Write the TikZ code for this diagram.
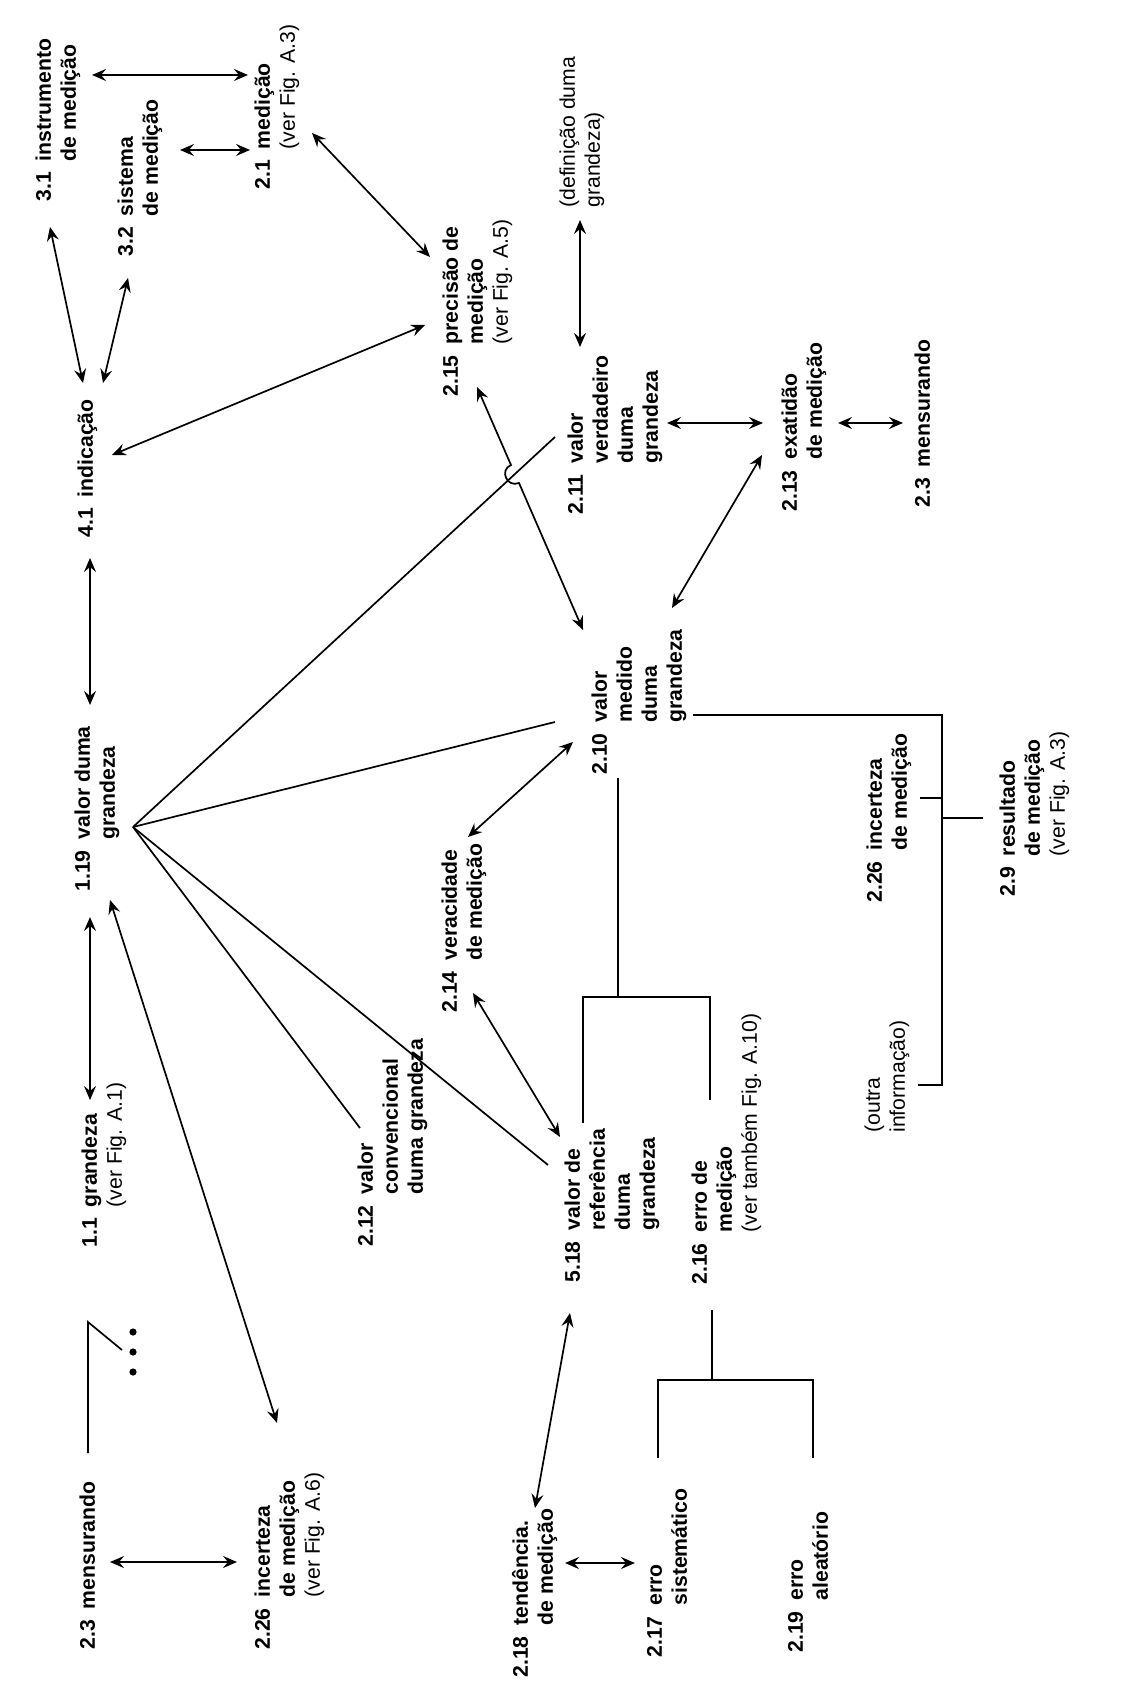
\documentclass[tikz,border=0pt]{standalone}
\usepackage{fontspec}
\setmainfont{Liberation Sans}
\usetikzlibrary{arrows.meta}
\newcommand\termtab[1]{\begin{tabular}{@{}l@{\hspace{5.5pt}}l@{}}#1\end{tabular}}
\begin{document}
\begin{tikzpicture}[x=0.5pt,y=-0.5pt,
 lbl/.style={rotate=90,anchor=north west,inner sep=0pt,font=\fontsize{10.6}{12.5}\selectfont\bfseries},
 plain/.style={rotate=90,anchor=north west,inner sep=0pt,align=left,font=\fontsize{10.6}{12.5}\selectfont},
 dbl/.style={{Stealth[length=7pt,width=6pt,inset=2.5pt]}-{Stealth[length=7pt,width=6pt,inset=2.5pt]},line width=0.85pt},
 ln/.style={line width=0.85pt},
 tree/.style={line width=1pt}]
\useasboundingbox[fill=white] (0,0) rectangle (1127,1689);

% ---------- nodes ----------
\node[lbl] (n31) at (33,202) {\termtab{3.1 & instrumento\\ & de medição}};
\node[lbl] (n32) at (115,257) {\termtab{3.2 & sistema\\ & de medição}};
\node[lbl] (n21) at (252,190) {\termtab{2.1 & medição\\ & {\mdseries (ver Fig. A.3)}}};
\node[lbl] (n215) at (440,397) {\termtab{2.15 & precisão de\\ & medição\\ & {\mdseries (ver Fig. A.5)}}};
\node[plain] (ndef) at (559,208) {(definição duma\\grandeza)};
\node[lbl] (n211) at (565,515) {\termtab{2.11 & valor\\ & verdadeiro\\ & duma\\ & grandeza}};
\node[lbl] (n213) at (779,512) {\termtab{2.13 & exatidão\\ & de medição}};
\node[lbl] (n23a) at (912,508) {\termtab{2.3 & mensurando}};
\node[lbl] (n41) at (75,538) {\termtab{4.1 & indicação}};
\node[lbl] (n119) at (72,892) {\termtab{1.19 & valor duma\\ & grandeza}};
\node[lbl] (n210) at (589,775) {\termtab{2.10 & valor\\ & medido\\ & duma\\ & grandeza}};
\node[lbl] (n11) at (79,1248) {\termtab{1.1 & grandeza\\ & {\mdseries (ver Fig. A.1)}}};
\node[lbl] (n212) at (355,1247) {\termtab{2.12 & valor\\ & convencional\\ & duma grandeza}};
\node[lbl] (n214) at (439,1013) {\termtab{2.14 & veracidade\\ & de medição}};
\node[lbl] (n518) at (562,1283) {\termtab{5.18 & valor de\\ & referência\\ & duma\\ & grandeza}};
\node[lbl] (n216) at (689,1285) {\termtab{2.16 & erro de\\ & medição\\ & {\mdseries (ver também Fig. A.10)}}};
\node[lbl] (n226r) at (864,903) {\termtab{2.26 & incerteza\\ & de medição}};
\node[lbl] (n29) at (997,897) {\termtab{2.9 & resultado\\ & de medição\\ & {\mdseries (ver Fig. A.3)}}};
\node[plain] (noutra) at (864,1133) {(outra\\ informação)};
\node[lbl] (n23b) at (77,1650) {\termtab{2.3 & mensurando}};
\node[lbl] (n226) at (252,1650) {\termtab{2.26 & incerteza\\ & de medição\\ & {\mdseries (ver Fig. A.6)}}};
\node[lbl] (n218) at (510,1678) {\termtab{2.18 & tendência.\\ & de medição}};
\node[lbl] (n217) at (644,1658) {\termtab{2.17 & erro\\ & sistemático}};
\node[lbl] (n219) at (785,1653) {\termtab{2.19 & erro\\ & aleatório}};

% ---------- connector end points ----------
\coordinate (c31a) at (92,75);    \coordinate (c21a) at (248,75);
\coordinate (c32a) at (180,150);  \coordinate (c21b) at (250,150);
\coordinate (c31b) at (50,227);   \coordinate (c41a) at (83,383);
\coordinate (c32b) at (128,278);  \coordinate (c41b) at (103,383);
\coordinate (c21c) at (312,133);  \coordinate (c215a) at (430,257);
\coordinate (c41c) at (112,455);  \coordinate (c215b) at (425,325);
\coordinate (cdef) at (580,220);  \coordinate (c211a) at (580,347);
\coordinate (c215c) at (477,387); \coordinate (c210a) at (583,630);
\coordinate (hopA) at (511,465);  \coordinate (hopB) at (519,483);
\coordinate (c211b) at (667,423); \coordinate (c213a) at (763,423);
\coordinate (c213b) at (838,423); \coordinate (c23a) at (903,423);
\coordinate (c210b) at (672,608); \coordinate (c213c) at (762,455);
\coordinate (c41d) at (90,558);   \coordinate (c119a) at (90,705);
\coordinate (c119b) at (90,917);  \coordinate (c11) at (90,1100);
\coordinate (c119c) at (110,900); \coordinate (c226) at (277,1423);
\coordinate (c214a) at (468,837); \coordinate (c210c) at (573,742);
\coordinate (c214b) at (473,993); \coordinate (c518a) at (560,1137);
\coordinate (c518b) at (570,1313);\coordinate (c218a) at (535,1508);
\coordinate (c218b) at (565,1563);\coordinate (c217) at (635,1563);
\coordinate (c23b) at (110,1562); \coordinate (c226b) at (237,1562);
\coordinate (hub) at (133,827);
\coordinate (e211) at (555,437);  \coordinate (e210) at (555,722);
\coordinate (e212) at (360,1128); \coordinate (e518) at (548,1165);

% ---------- double arrows ----------
\draw[dbl] (c31a) -- (c21a);
\draw[dbl] (c32a) -- (c21b);
\draw[dbl] (c31b) -- (c41a);
\draw[dbl] (c32b) -- (c41b);
\draw[dbl] (c21c) -- (c215a);
\draw[dbl] (c41c) -- (c215b);
\draw[dbl] (cdef) -- (c211a);
\draw[dbl] (c215c) -- (hopA) .. controls (499,470) and (507,488) .. (hopB) -- (c210a);
\draw[dbl] (c211b) -- (c213a);
\draw[dbl] (c213b) -- (c23a);
\draw[dbl] (c210b) -- (c213c);
\draw[dbl] (c41d) -- (c119a);
\draw[dbl] (c119b) -- (c11);
\draw[dbl] (c119c) -- (c226);
\draw[dbl] (c214a) -- (c210c);
\draw[dbl] (c214b) -- (c518a);
\draw[dbl] (c518b) -- (c218a);
\draw[dbl] (c218b) -- (c217);
\draw[dbl] (c23b) -- (c226b);

% ---------- fan from 1.19 ----------
\draw[ln] (hub) -- (e211);
\draw[ln] (hub) -- (e210);
\draw[ln] (hub) -- (e212);
\draw[ln] (hub) -- (e518);

% ---------- trees ----------
\draw[tree] (618,778) -- (618,997);
\draw[tree] (583,1123) -- (583,997) -- (710,997) -- (710,1100);
\draw[tree] (712,1310) -- (712,1380);
\draw[tree] (658,1458) -- (658,1380) -- (813,1380) -- (813,1458);
\draw[tree] (693,715) -- (942,715) -- (942,1085) -- (918,1085);
\draw[tree] (920,798) -- (942,798);
\draw[tree] (942,818) -- (983,818);

% ---------- mensurando branch ----------
\draw[ln] (88,1453) -- (88,1322) -- (122,1350);
\fill (133,1332) circle[radius=1.8pt];
\fill (133,1352) circle[radius=1.8pt];
\fill (133,1372) circle[radius=1.8pt];
\end{tikzpicture}
\end{document}
